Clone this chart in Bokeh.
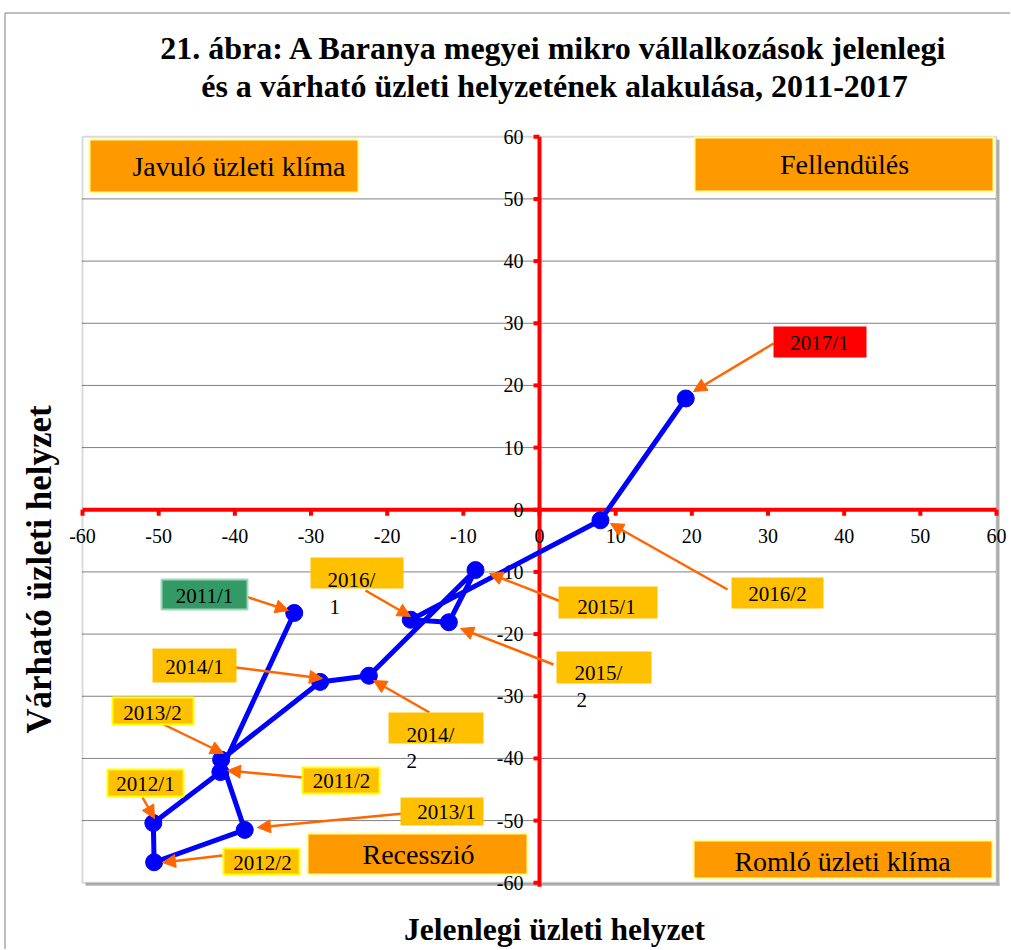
import math
from bokeh.plotting import figure
from bokeh.models import (Label, BoxAnnotation, Arrow, NormalHead, ColumnDataSource)
from bokeh.core.properties import value
from bokeh.embed import file_html
from bokeh.resources import INLINE

# ---------------- data ----------------
periods = ["2011/1", "2011/2", "2012/1", "2012/2", "2013/1", "2013/2", "2014/1",
           "2014/2", "2015/1", "2015/2", "2016/1", "2016/2", "2017/1"]
current = [-32.2, -41.9, -50.7, -50.6, -38.7, -41.8, -28.8, -22.4, -8.4, -11.9, -16.9, 8.0, 19.2]
expected = [-16.6, -42.2, -50.4, -56.7, -51.5, -40.2, -27.7, -26.7, -9.7, -18.1, -17.7, -1.7, 17.9]
tick_values = [-60, -50, -40, -30, -20, -10, 0, 10, 20, 30, 40, 50, 60]
tick_labels = ["-60", "-50", "-40", "-30", "-20", "-10", "0", "10", "20", "30", "40", "50", "60"]
grid_values = [-50, -40, -30, -20, -10, 10, 20, 30, 40, 50]
axis_min, axis_max = -60, 60

title_lines = ["21. ábra: A Baranya megyei mikro vállalkozások jelenlegi",
               "és a várható üzleti helyzetének alakulása, 2011-2017"]
x_title = "Jelenlegi üzleti helyzet"
y_title = "Várható üzleti helyzet"
quadrant_names = ["Javuló üzleti klíma", "Fellendülés", "Recesszió", "Romló üzleti klíma"]

# ---------------- layout helpers (reference pixel layout -> data units) ----------------
# plot area: x -60..60 -> px 82..996 ; y 60..-60 -> px 136..882.5
X0, XS = 539.0, 914.0 / 120.0
Y0, YS = 509.25, 746.0 / 120.0


def dx(px):
    return (px - X0) / XS


def dy(py):
    return (Y0 - py) / YS


SERIF = "Liberation Serif"
ORANGE = "#FF6600"
GOLD = "#FFC000"

W, H = 1010, 949
p = figure(width=W, height=H, x_range=(dx(0), dx(W)), y_range=(dy(H), dy(0)),
           x_axis_type=None, y_axis_type=None, output_backend="svg",
           toolbar_location=None, min_border=0, min_border_left=0, min_border_right=0,
           min_border_top=0, min_border_bottom=0)
p.background_fill_color = "white"
p.border_fill_color = "white"
p.outline_line_color = None

# outer chart border (left and top edges visible)
p.segment(x0=[dx(4.5), dx(4.5)], y0=[dy(12.5), dy(12.5)], x1=[dx(4.5), dx(W + 5)],
          y1=[dy(H + 5), dy(12.5)], line_color="#7F7F7F", line_width=1)

# plot-area shadow
p.add_layout(BoxAnnotation(left=axis_max, right=axis_max + 3 / XS, top=axis_max - 3 / YS,
                           bottom=axis_min - 3 / YS, fill_color="#B0B0B0", fill_alpha=1,
                           line_alpha=0, level="underlay"))
p.add_layout(BoxAnnotation(left=axis_min + 3 / XS, right=axis_max + 3 / XS, top=axis_min,
                           bottom=axis_min - 3 / YS, fill_color="#B0B0B0", fill_alpha=1,
                           line_alpha=0, level="underlay"))

# dotted horizontal grid lines inside the plot area
ng = len(grid_values)
p.segment(x0=[axis_min] * ng, y0=grid_values, x1=[axis_max] * ng, y1=grid_values,
          line_color="black", line_dash="1 1", line_width=1)

# plot-area outline
p.add_layout(BoxAnnotation(left=axis_min, right=axis_max, top=axis_max, bottom=axis_min,
                           fill_alpha=0, line_color="#858585", line_width=2, level="underlay"))

# red axes crossing at zero
nt = len(tick_values)
zeros = [0] * nt
p.segment(x0=[axis_min], y0=[0], x1=[axis_max], y1=[0], line_color="#FF0000", line_width=4)
p.segment(x0=[0], y0=[axis_min - 4 / YS], x1=[0], y1=[axis_max], line_color="#FF0000", line_width=4)
p.segment(x0=tick_values, y0=zeros, x1=tick_values, y1=[-6 / YS] * nt,
          line_color="#FF0000", line_width=4)
p.segment(x0=zeros, y0=tick_values, x1=[-6 / XS] * nt, y1=tick_values,
          line_color="#FF0000", line_width=4)
p.text(x=tick_values, y=[-26 / YS] * nt, text=tick_labels,
       text_font=value(SERIF), text_font_size="20px", text_color="black",
       text_align="center", text_baseline="middle")
p.text(x=[-16 / XS] * nt, y=tick_values, text=tick_labels,
       text_font=value(SERIF), text_font_size="20px", text_color="black",
       text_align="right", text_baseline="middle")

# series
src = ColumnDataSource(dict(x=current, y=expected, period=periods))
p.line("x", "y", source=src, line_color="#0000FF", line_width=5)
p.scatter("x", "y", source=src, size=17, fill_color="#0000FF", line_color="#0000FF")

# quadrant boxes: (text, left, right, top, bottom, text cx, text cy) in reference px
quad_layout = [
    (quadrant_names[0], 89, 358, 139, 192, 238.5, 166),
    (quadrant_names[1], 694, 993, 137, 191, 844, 164),
    (quadrant_names[2], 307, 527, 833, 874, 418, 854),
    (quadrant_names[3], 693, 992, 840, 878, 842, 861),
]
for txt, l, r, t, b, cx, cy in quad_layout:
    p.add_layout(BoxAnnotation(left=dx(l), right=dx(r), top=dy(t), bottom=dy(b),
                               fill_color="#FF9900", fill_alpha=1.0,
                               line_color="#FFFF99", line_width=2, line_alpha=1.0))
    p.add_layout(Label(x=dx(cx), y=dy(cy), text=txt, text_font=SERIF,
                       text_font_size="28px", text_color="black",
                       text_align="center", text_baseline="middle"))

# arrows: period -> (start px, end px)
arrow_layout = {
    "2011/1": ((239, 594), (288, 610)),
    "2016/1": ((365, 590), (410, 616)),
    "2015/1": ((563, 602), (489, 573)),
    "2015/2": ((553, 664), (460, 628)),
    "2014/1": ((235, 667), (322, 678)),
    "2014/2": ((429, 712), (373, 680)),
    "2013/2": ((155, 720), (223, 753)),
    "2012/1": ((142, 797), (154, 818)),
    "2011/2": ((302, 777), (227, 770)),
    "2013/1": ((403, 813), (257, 827)),
    "2012/2": ((222, 855), (162, 862)),
    "2016/2": ((727, 589), (610, 523)),
    "2017/1": ((773, 343), (693, 391)),
}
for per in periods:
    (sx0, sy0), (sx1, sy1) = arrow_layout[per]
    p.add_layout(Arrow(x_start=dx(sx0), y_start=dy(sy0), x_end=dx(sx1), y_end=dy(sy1),
                       line_color=ORANGE, line_width=2.5,
                       end=NormalHead(size=13, fill_color=ORANGE, line_color=ORANGE)))

# period labels: box (l, r, t, b), fill, border, text lines [(text, x, y, align)]
label_layout = {
    "2011/1": ((161, 247, 579, 609), "#339966", "#9FD6B8", [("2011/1", 204, 595, "center")]),
    "2016/1": ((310, 403, 557, 588), GOLD, None, [("2016/", 327, 579, "left"), ("1", 329, 606, "left")]),
    "2015/1": ((558, 657, 586, 618), GOLD, None, [("2015/1", 606, 606, "center")]),
    "2015/2": ((556, 651, 651, 683), GOLD, None, [("2015/", 574, 672, "left"), ("2", 576, 699, "left")]),
    "2014/1": ((152, 236, 648, 682), GOLD, None, [("2014/1", 194, 666, "center")]),
    "2014/2": ((388, 483, 712, 743), GOLD, None, [("2014/", 406, 734, "left"), ("2", 406, 760, "left")]),
    "2013/2": ((112, 193, 697, 724), GOLD, "#FFFF00", [("2013/2", 152, 712, "center")]),
    "2012/1": ((107, 183, 769, 796), GOLD, "#FFFF00", [("2012/1", 145, 783, "center")]),
    "2011/2": ((302, 379, 767, 793), GOLD, "#FFFF00", [("2011/2", 341, 780, "center")]),
    "2013/1": ((400, 483, 797, 825), GOLD, None, [("2013/1", 446, 811, "center")]),
    "2012/2": ((223, 299, 848, 874), GOLD, "#FFFF00", [("2012/2", 262, 862, "center")]),
    "2016/2": ((731, 823, 577, 608), GOLD, None, [("2016/2", 777, 593, "center")]),
    "2017/1": ((773, 866, 326, 357), "#FF0000", None, [("2017/1", 819, 342, "center")]),
}
for per in periods:
    (l, r, t, b), fill, border, lines = label_layout[per]
    p.add_layout(BoxAnnotation(left=dx(l), right=dx(r), top=dy(t), bottom=dy(b),
                               fill_color=fill, fill_alpha=1.0,
                               line_color=border if border else fill, line_width=2 if border else 0,
                               line_alpha=1.0 if border else 0.0))
    for txt, tx, ty, al in lines:
        p.add_layout(Label(x=dx(tx), y=dy(ty), text=txt, text_font=SERIF,
                           text_font_size="21px", text_color="black",
                           text_align=al, text_baseline="middle"))

# titles
p.add_layout(Label(x=dx(554), y=dy(47), text=title_lines[0], text_font=SERIF,
                   text_font_size="32px", text_font_style="bold", text_color="black",
                   text_align="center", text_baseline="middle"))
p.add_layout(Label(x=dx(554), y=dy(85), text=title_lines[1], text_font=SERIF,
                   text_font_size="32px", text_font_style="bold", text_color="black",
                   text_align="center", text_baseline="middle"))
p.add_layout(Label(x=dx(554), y=dy(929), text=x_title, text_font=SERIF,
                   text_font_size="31.5px", text_font_style="bold", text_color="black",
                   text_align="center", text_baseline="middle"))
p.add_layout(Label(x=dx(39), y=dy(569), text=y_title, text_font=SERIF, angle=math.pi / 2,
                   text_font_size="35px", text_font_style="bold", text_color="black",
                   text_align="center", text_baseline="middle"))

open("out.html", "w").write(file_html(p, INLINE))
